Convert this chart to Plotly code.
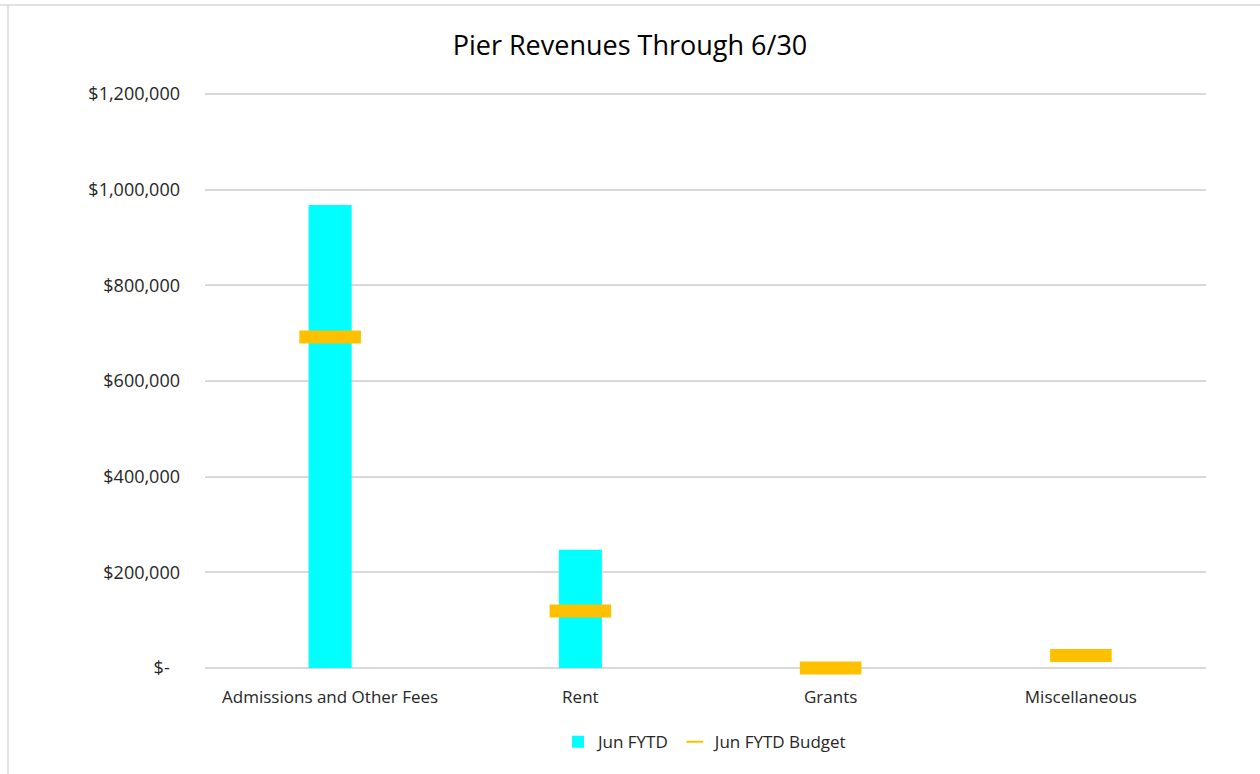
import plotly.graph_objects as go

categories = ["Admissions and Other Fees", "Rent", "Grants", "Miscellaneous"]
actual = [968000, 247000, 0, 0]
budget = [692000, 119000, 0, 26000]
y_ticks = [0, 200000, 400000, 600000, 800000, 1000000, 1200000]
y_tick_labels = ["$-\u2007", "$200,000", "$400,000", "$600,000", "$800,000", "$1,000,000", "$1,200,000"]

FONT = "Open Sans"
TXT = "#262626"

fig = go.Figure()
fig.add_trace(go.Bar(
    x=categories, y=actual, name="Jun FYTD",
    marker=dict(color="#00FFFF", line=dict(width=0)),
    width=0.172,
))
fig.add_trace(go.Scatter(
    x=categories, y=budget, name="Jun FYTD Budget", mode="markers",
    cliponaxis=False,
    marker=dict(symbol="line-ew", size=44, color="#FFC000",
                line=dict(color="#FFC000", width=13)),
))

fig.update_layout(
    width=1260, height=774,
    paper_bgcolor="white", plot_bgcolor="white",
    margin=dict(l=205, r=54, t=92, b=106),
    title=dict(text="Pier Revenues Through 6/30", x=0.5, xanchor="center",
               y=1 - 46 / 774, yanchor="middle",
               font=dict(family=FONT, size=27, color="#000000")),
    font=dict(family=FONT, size=18, color=TXT),
    showlegend=True,
    legend=dict(orientation="h", x=0.5, xanchor="center", y=-0.129, yanchor="middle",
                font=dict(family=FONT, size=17, color=TXT),
                itemsizing="constant"),
    bargap=0.5,
)
fig.update_xaxes(showgrid=False, showline=False, ticks="", tickfont=dict(size=17, color=TXT),
                 ticklabelstandoff=17, automargin=False)
fig.update_yaxes(range=[0, 1204000], tickvals=y_ticks, ticktext=y_tick_labels,
                 showgrid=True, gridcolor="#d9d9d9", gridwidth=1.5,
                 zeroline=True, zerolinecolor="#d9d9d9", zerolinewidth=1.5,
                 showline=False, ticks="", ticklen=0, ticklabelstandoff=24,
                 tickfont=dict(size=18, color=TXT), automargin=False)

# outer chart frame (top and left edges)
fig.add_shape(type="line", xref="paper", yref="paper", x0=-205/1001, x1=1.06, y0=1 + 87/576, y1=1 + 87/576,
              line=dict(color="#d9d9d9", width=1.5))
fig.add_shape(type="line", xref="paper", yref="paper", x0=-197/1001, x1=-197/1001, y0=1 + 87/576, y1=-0.2,
              line=dict(color="#d9d9d9", width=1.5))

fig.write_html("out.html")
